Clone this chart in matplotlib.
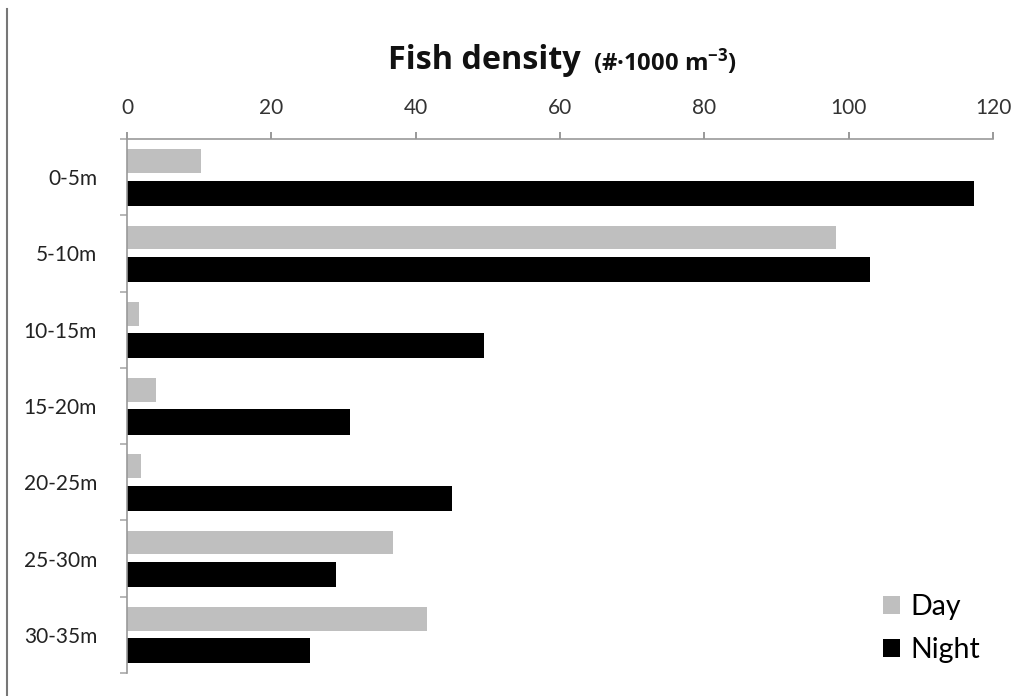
import matplotlib
matplotlib.use("Agg")
import matplotlib.pyplot as plt
from matplotlib.lines import Line2D
from matplotlib.patches import Patch
import numpy as np

categories = ["0-5m", "5-10m", "10-15m", "15-20m", "20-25m", "25-30m", "30-35m"]
day = [10.3, 98.2, 1.6, 4.0, 1.9, 36.8, 41.6]
night = [117.4, 102.9, 49.4, 30.9, 45.0, 29.0, 25.3]
xticks = [0, 20, 40, 60, 80, 100, 120]

plt.rcParams['font.family'] = ['Lato', 'DejaVu Sans']
plt.rcParams['mathtext.fontset'] = 'custom'
plt.rcParams['mathtext.rm'] = 'Open Sans:bold'
plt.rcParams['mathtext.default'] = 'rm'

W, H = 1031, 696
fig = plt.figure(figsize=(W/100, H/100), dpi=100)
ax = fig.add_axes([127/W, 1-673/H, (993-127)/W, (673-139)/H])

y = np.arange(len(categories))
ax.barh(y - 0.21, day, height=0.31, color='#bfbfbf', label='Day')
ax.barh(y + 0.21, night, height=0.33, color='#000000', label='Night')

ax.set_xlim(0, 120)
ax.set_ylim(len(categories) - 0.5, -0.5)
ax.xaxis.tick_top()
ax.set_xticks(xticks)
ax.set_xticklabels([str(t) for t in xticks], fontsize=15, color='#333333')
ax.tick_params(axis='x', direction='out', length=5, width=1.2, color='#888888', pad=10)

ax.set_yticks(y)
ax.set_yticklabels(categories, fontsize=15, color='#222222')
ax.tick_params(axis='y', which='major', length=0, pad=21.5)
ax.set_yticks(np.arange(len(categories) + 1) - 0.5, minor=True)
ax.tick_params(axis='y', which='minor', direction='out', length=5, width=1.2, color='#aaaaaa')

for s in ['right', 'bottom']:
    ax.spines[s].set_visible(False)
for s in ['left', 'top']:
    ax.spines[s].set_color('#999999')
    ax.spines[s].set_linewidth(1.2)

# title
t1 = fig.text(388/W, 1-69/H, "Fish density", fontsize=23.3, fontweight='bold', family='Open Sans',
              ha='left', va='baseline', color='#111111')
fig.canvas.draw()
bb = t1.get_window_extent()
fig.text((bb.x1 + 12)/W, 1-71/H, "(#·1000 m$^{-3}$)", fontsize=17.2, fontweight='bold', family='Open Sans',
         ha='left', va='baseline', color='#111111')

# left vertical line
fig.add_artist(Line2D([7/W, 7/W], [0, 1-9/H], transform=fig.transFigure, color='#777777', linewidth=1.5))

handles = [Patch(facecolor='#bfbfbf', label='Day'), Patch(facecolor='#000000', label='Night')]
fig.legend(handles=handles, loc='upper left', bbox_to_anchor=(883/W, 1-594/H), frameon=False,
           fontsize=20.5, handlelength=0.6, handleheight=0.6, handletextpad=0.35, labelspacing=0.6,
           borderaxespad=0, borderpad=0)

fig.savefig("out.png", dpi=100)
